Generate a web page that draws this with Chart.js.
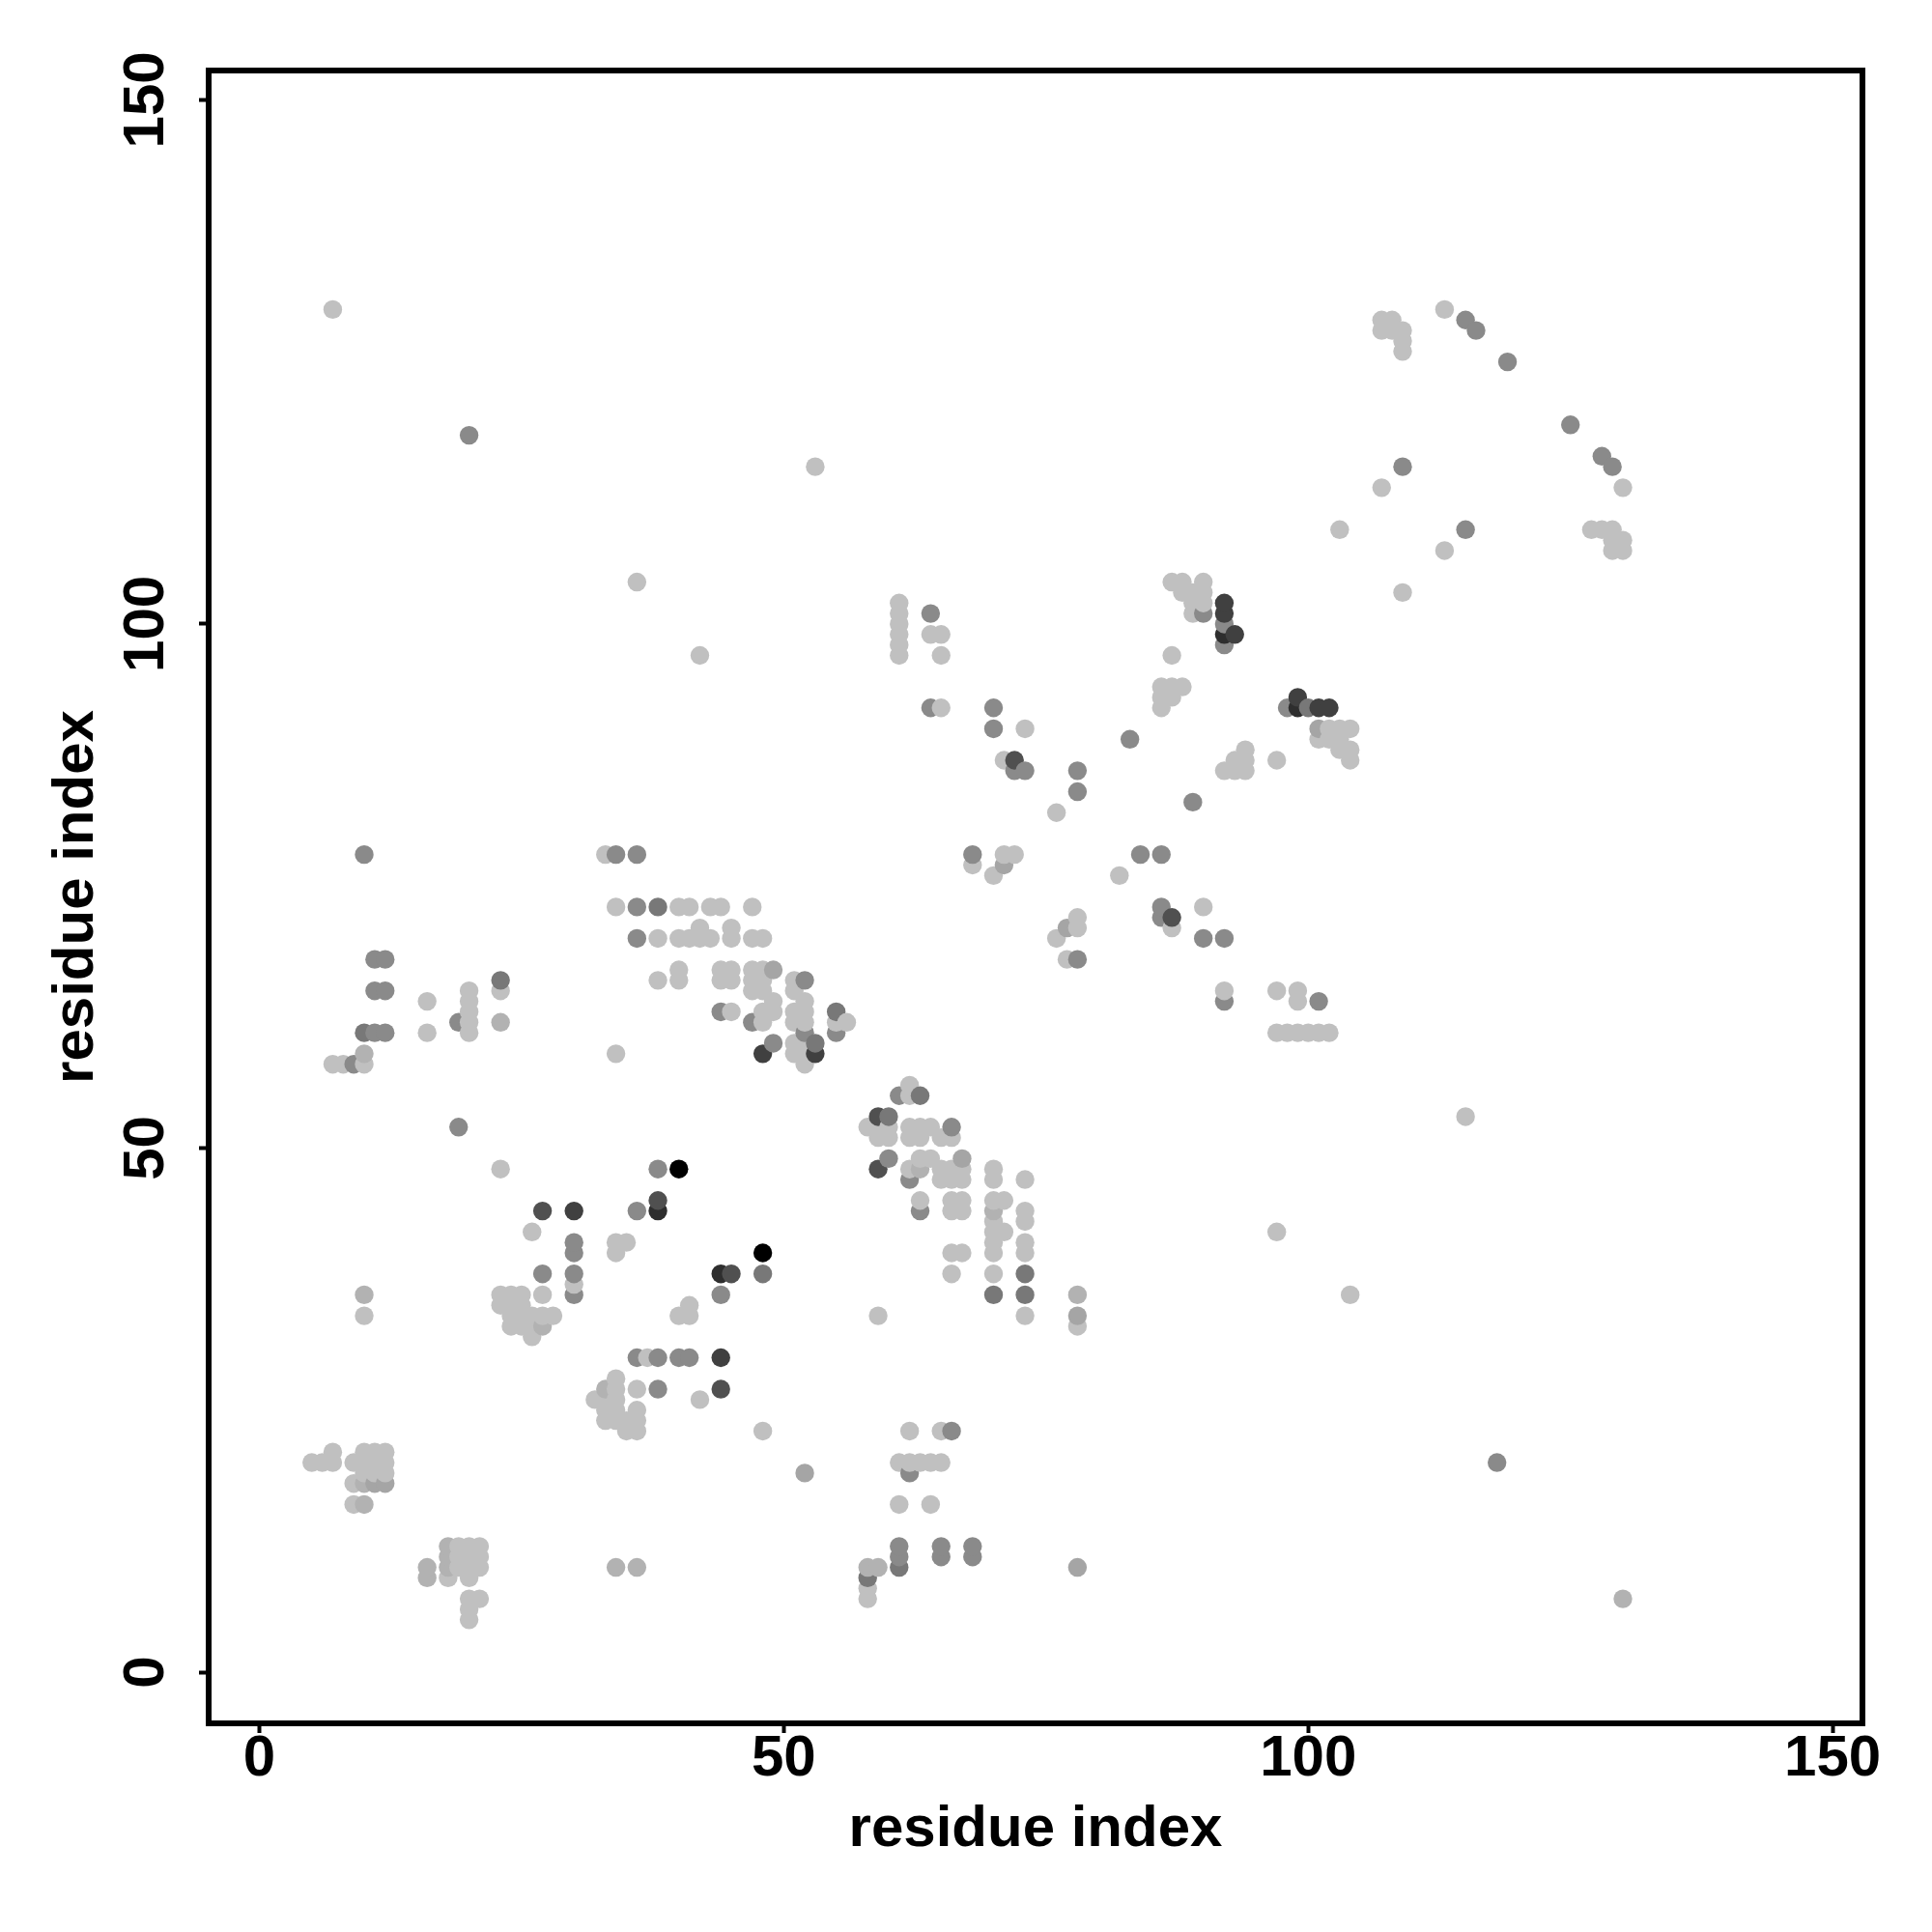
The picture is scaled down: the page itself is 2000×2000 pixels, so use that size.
<!DOCTYPE html>
<html>
<head>
<meta charset="utf-8">
<style>html,body{margin:0;padding:0;background:#fff}canvas{display:block}</style>
<script src="https://cdn.jsdelivr.net/npm/chart.js@4"></script>
</head>
<body>
<canvas id="c" width="2000" height="2000"></canvas>
<script>
const tickValues = [0, 50, 100, 150];
const axisTitle = "residue index";

const lightContacts = [[5,20],[6,20],[7,20],[7,21],[9,20],[9,18],[9,16],[10,19],[10,20],[10,21],[11,19],[11,20],[11,21],[12,19],[12,20],[12,21],
[19,12],[20,12],[21,12],[19,11],[20,11],[21,11],[19,10],[20,10],[21,10],[18,9],[20,9],[20,7],[21,7],[20,6],[20,5],
[34,28],[32,26],[33,26],[34,27],[34,26],[33,25],[34,25],[36,25],[33,24],[34,24],[35,24],[36,24],[35,23],[36,23],[36,27],
[23,48],[26,42],[34,41],[35,41],[34,40],[30,37],[27,36],[23,36],[24,36],[25,36],[23,35],[24,35],[25,35],[24,34],[25,34],[26,34],[27,34],[28,34],[24,33],[25,33],[26,33],[26,32],
[41,35],[40,34],[41,34],[37,30],[42,26],[48,23],
[62,56],[62,55],[58,52],[59,52],[60,52],[62,52],[63,52],[64,52],[59,51],[60,51],[62,51],[63,51],[65,51],[66,51],[63,49],[64,49],[62,48],[65,48],[66,48],[67,48],[70,48],[70,47],[65,47],[66,47],[67,47],[73,47],[63,45],[66,45],[67,45],[66,44],[67,44],[70,45],[71,45],[73,44],[73,43],[70,43],[70,42],[71,42],[70,41],[70,40],[73,41],[73,40],[66,40],[67,40],[66,38],[70,38],[59,34],[73,34],[78,33],
[34,73],[40,73],[41,73],[43,73],[44,73],[47,73],[38,70],[40,70],[41,70],[42,70],[43,70],[45,70],[47,70],[48,70],[42,71],[45,71],[40,67],[44,67],[45,67],[47,67],[48,67],[38,66],[40,66],[44,66],[45,66],[47,66],[48,66],[51,66],[47,65],[48,65],[51,65],[49,64],[52,64],[45,63],[48,63],[49,63],[51,63],[52,63],[48,62],[51,62],[52,62],[55,62],[56,62],[51,60],[52,60],[34,59],[51,59],[52,59],[52,58],
[16,64],[16,61],[20,65],[20,64],[20,63],[20,62],[20,61],[23,65],[7,58],[8,58],[10,58],
[87,104],[88,104],[90,104],[88,103],[89,103],[90,103],[89,102],[90,102],[89,101],[87,97],[86,94],[87,94],[88,94],[86,93],[87,93],[86,92],[102,90],[103,90],[104,90],[101,89],[102,89],[103,89],[103,88],[104,88],[104,87],[94,88],[93,87],[94,87],[92,86],[93,86],[94,86],[97,87],
[73,90],[71,87],[76,82],[68,77],[71,78],[72,78],[70,76],[82,76],[87,71],[90,73],[78,72],[78,71],[76,70],[77,68],[92,65],
[113,130],[130,113],[107,113],[103,109],[113,107],[109,103],[127,109],[128,109],[129,109],[130,108],[129,108],[129,107],[130,107],[107,129],[108,129],[107,128],[108,128],[109,128],[109,127],[109,126],
[7,130],[53,115],[36,104],[42,97],[61,102],[61,101],[61,100],[61,99],[61,98],[61,97],[64,99],[65,99],[65,97],[65,92],[33,78],
[97,61],[98,61],[99,61],[100,61],[101,61],[102,61],[97,65],[99,65],[99,64],[115,53],[97,42],[104,36],[10,34],[62,23],[65,23],[61,20],[62,20],[63,20],[64,20],[65,20],[61,16],[64,16],[58,8],[58,7]];

const paleContacts = [[10,16],[10,18],[16,10],[16,9],[18,12],[18,11],[18,10],[33,27],[27,33],[63,48],[70,44],[78,36],[23,62],[10,59],[10,36],[34,10],[36,10],[58,10],[59,10],[130,7]];

const softContacts = [[11,18],[12,18],[67,49],[78,34],[49,67],[71,77],[77,71],[78,10],[101,90],[52,19]];

const midContacts = [[38,27],[36,30],[38,30],[40,30],[41,30],[38,48],[36,44],[30,41],[30,40],[27,38],[30,38],[30,36],[44,36],[61,55],[60,49],[62,47],[63,44],[66,52],
[36,73],[36,70],[44,63],[47,62],[52,66],[52,61],[55,61],[49,60],
[11,68],[12,68],[11,65],[12,65],[11,61],[12,61],[19,62],[9,58],
[90,101],[92,100],[92,98],[98,92],[83,89],[89,83],[70,92],[70,90],[72,86],[73,86],[78,86],[78,84],[68,78],[84,78],[86,78],[86,73],[86,72],[90,70],[92,70],[78,68],
[115,129],[116,128],[119,125],[125,119],[128,116],[129,115],[109,115],[115,109],[20,118],[64,101],[64,92],[34,78],[36,78],[10,78],[101,64],[19,52],[66,23],[118,20],[62,19],[61,12],[61,11],[65,12],[65,11],[68,12],[68,11],[92,64]];

const deepContacts = [[48,38],[63,55],[60,53],[73,38],[70,36],[73,36],[38,73],[55,63],[53,60],[10,61],[23,66],[100,92],[61,10],[58,9]];
const darkContacts = [[38,45],[27,44],[45,38],[59,53],[59,48],[44,27],[72,87],[87,72]];
const darkerContacts = [[30,44],[44,30],[48,59],[53,59],[92,102],[92,101],[93,99],[99,93],[101,92],[102,92]];
const darkestContacts = [[38,44],[44,38],[99,92],[92,99]];
const blackContacts = [[40,48],[48,40]];

const groups = [
  [lightContacts, "#c0c0c0"], [paleContacts, "#b2b2b2"], [softContacts, "#a5a5a5"],
  [midContacts, "#8a8a8a"], [deepContacts, "#787878"], [darkContacts, "#505050"],
  [darkerContacts, "#404040"], [darkestContacts, "#2e2e2e"], [blackContacts, "#000000"]
];
const table = [];
groups.forEach(([list, colour]) => list.forEach(([x, y]) => table.push({x, y, colour})));
table.sort((a, b) => a.x - b.x || a.y - b.y);

const fontFamily = '"Liberation Sans", Arial, sans-serif';
const frame = {
  id: "frame",
  afterDraw(chart) {
    const {ctx, chartArea: a} = chart;
    ctx.save();
    ctx.strokeStyle = "#000";
    ctx.lineWidth = 6;
    ctx.strokeRect(a.left, a.top, a.right - a.left, a.bottom - a.top);
    ctx.restore();
  }
};
const setTicks = s => { s.ticks = tickValues.map(v => ({value: v, label: String(v)})); };

new Chart(document.getElementById("c"), {
  type: "scatter",
  data: { datasets: [{
    data: table.map(p => ({x: p.x, y: p.y})),
    backgroundColor: table.map(p => p.colour),
    pointBackgroundColor: table.map(p => p.colour),
    borderWidth: 0,
    pointBorderWidth: 0,
    pointRadius: 9.7,
    pointHoverRadius: 9.7
  }]},
  plugins: [frame],
  options: {
    responsive: false,
    animation: false,
    devicePixelRatio: 1,
    layout: { padding: { top: 73, right: 72, left: 0, bottom: 0 } },
    plugins: { legend: { display: false }, tooltip: { enabled: false } },
    scales: {
      x: {
        type: "linear", min: -4.83, max: 152.84,
        afterBuildTicks: setTicks,
        afterFit: s => { s.height = 216; },
        border: { display: false },
        grid: { display: true, drawOnChartArea: false, drawTicks: true, tickLength: 10, tickWidth: 4, tickColor: "#000" },
        ticks: { color: "#000", font: { family: fontFamily, weight: "bold", size: 60 }, padding: -9, maxRotation: 0, minRotation: 0, autoSkip: false },
        title: { display: true, text: axisTitle, color: "#000", font: { family: fontFamily, weight: "bold", size: 60 }, padding: { top: 8, bottom: 70 } }
      },
      y: {
        type: "linear", min: -4.88, max: 152.8,
        afterBuildTicks: setTicks,
        afterFit: s => { s.width = 216; },
        border: { display: false },
        grid: { display: true, drawOnChartArea: false, drawTicks: true, tickLength: 10, tickWidth: 4, tickColor: "#000" },
        ticks: { color: "#000", font: { family: fontFamily, weight: "bold", size: 60 }, padding: 3, minRotation: 90, maxRotation: 90, crossAlign: "center", autoSkip: false },
        title: { display: true, text: axisTitle, color: "#000", font: { family: fontFamily, weight: "bold", size: 60 }, padding: { top: 43, bottom: 0 } }
      }
    }
  }
});
</script>
</body>
</html>
